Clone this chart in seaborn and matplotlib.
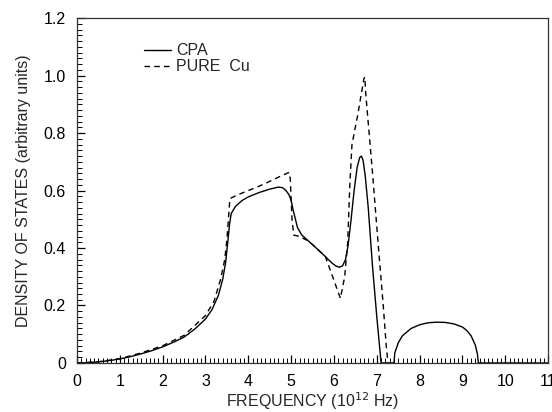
import numpy as np
import pandas as pd
import matplotlib
matplotlib.use("Agg")
import matplotlib.pyplot as plt
from matplotlib.ticker import MultipleLocator
import seaborn as sns

# values (frequency in 10^12 Hz, DOS arbitrary units)
cpa_x = [0, 0.25, 0.5, 0.75, 1.0, 1.25, 1.5, 1.75, 2.0, 2.25, 2.5, 2.75, 3.0,
         3.15, 3.3, 3.4, 3.47, 3.52, 3.56, 3.6, 3.7, 3.85, 4.0, 4.25, 4.5,
         4.7, 4.8, 4.88, 4.95, 5.0, 5.05, 5.1, 5.15, 5.25, 5.4, 5.6, 5.8,
         5.95, 6.05, 6.13, 6.2, 6.27, 6.33, 6.4, 6.47, 6.54, 6.6, 6.64, 6.68,
         6.73, 6.8, 6.9, 7.0, 7.1, 7.4, 7.42, 7.5, 7.6, 7.8, 8.0, 8.2, 8.4,
         8.6, 8.8, 9.0, 9.1, 9.2, 9.3, 9.35, 9.37, 11.0]
cpa_y = [0, 0.001, 0.004, 0.008, 0.014, 0.022, 0.032, 0.043, 0.056, 0.072,
         0.09, 0.118, 0.153, 0.185, 0.235, 0.29, 0.35, 0.42, 0.48, 0.52,
         0.545, 0.565, 0.578, 0.593, 0.605, 0.612, 0.61, 0.6, 0.585, 0.565,
         0.53, 0.5, 0.47, 0.445, 0.425, 0.398, 0.37, 0.348, 0.337, 0.333,
         0.338, 0.36, 0.41, 0.5, 0.6, 0.68, 0.715, 0.72, 0.705, 0.65, 0.54,
         0.335, 0.16, 0, 0, 0.035, 0.07, 0.095, 0.12, 0.133, 0.14, 0.142,
         0.141, 0.136, 0.125, 0.113, 0.095, 0.062, 0.03, 0, 0]

cu_x = [0, 0.5, 1.0, 1.5, 2.0, 2.5, 3.0, 3.2, 3.35, 3.45, 3.5, 3.54, 3.57,
        3.75, 4.0, 4.25, 4.5, 4.75, 4.95, 4.98, 5.02, 5.06, 5.2, 5.3, 5.4,
        5.6, 5.8, 6.15, 6.25, 6.32, 6.37, 6.42, 6.55, 6.7, 6.72, 6.74, 6.9,
        7.05, 7.15, 7.22, 7.26]
cu_y = [0, 0.004, 0.015, 0.035, 0.06, 0.096, 0.165, 0.215, 0.29, 0.36,
        0.43, 0.51, 0.572, 0.585, 0.6, 0.615, 0.632, 0.65, 0.663, 0.64, 0.5,
        0.445, 0.44, 0.432, 0.425, 0.398, 0.37, 0.225, 0.3, 0.42, 0.62, 0.76,
        0.86, 0.99, 0.995, 0.94, 0.66, 0.38, 0.2, 0.06, 0]

x_labels = ["0", "1", "2", "3", "4", "5", "6", "7", "8", "9", "10", "11"]
y_labels = ["0", "0.2", "0.4", "0.6", "0.8", "1.0", "1.2"]

cpa = pd.DataFrame({"freq": cpa_x, "dos": cpa_y})
cu = pd.DataFrame({"freq": cu_x, "dos": cu_y})

sns.set_style("ticks")
plt.rcParams["font.family"] = ["Liberation Sans", "DejaVu Sans"]

fig, ax = plt.subplots(figsize=(5.52, 4.12), dpi=100)
fig.subplots_adjust(left=0.1395, right=0.993, bottom=0.119, top=0.956)

sns.lineplot(data=cpa, x="freq", y="dos", ax=ax, color="black", lw=1.0,
             label="CPA", sort=False)
sns.lineplot(data=cu, x="freq", y="dos", ax=ax, color="black", lw=1.0,
             linestyle=(0, (4, 3)), label="PURE  Cu", sort=False)

ax.set_xlim(0, 11)
ax.set_ylim(0, 1.2)
ax.set_xticks(np.arange(0, 11.01, 1))
ax.set_yticks(np.arange(0, 1.21, 0.2))
ax.set_xticklabels(x_labels)
ax.set_yticklabels(y_labels)
ax.xaxis.set_minor_locator(MultipleLocator(0.1))
ax.yaxis.set_minor_locator(MultipleLocator(0.02))
ax.tick_params(which="both", direction="in", top=False, right=False,
               colors="black", labelsize=11.5)
ax.tick_params(which="major", length=6, width=0.9, pad=8)
ax.tick_params(which="minor", length=3.5, width=0.7)

for s in ax.spines.values():
    s.set_linewidth(0.9)
    s.set_color("#333333")
    s.set_visible(True)

ax.set_xlabel("FREQUENCY (10$^{12}$ Hz)", fontsize=11.5, labelpad=1)
ax.set_ylabel("DENSITY OF STATES (arbitrary units)", fontsize=11.5,
              labelpad=9)

ax.legend(loc="upper left", bbox_to_anchor=(0.128, 0.945), frameon=False,
          fontsize=11.5, handlelength=1.7, handletextpad=0.35,
          labelspacing=0.05, borderaxespad=0)

fig.savefig("out.png", dpi=100)
